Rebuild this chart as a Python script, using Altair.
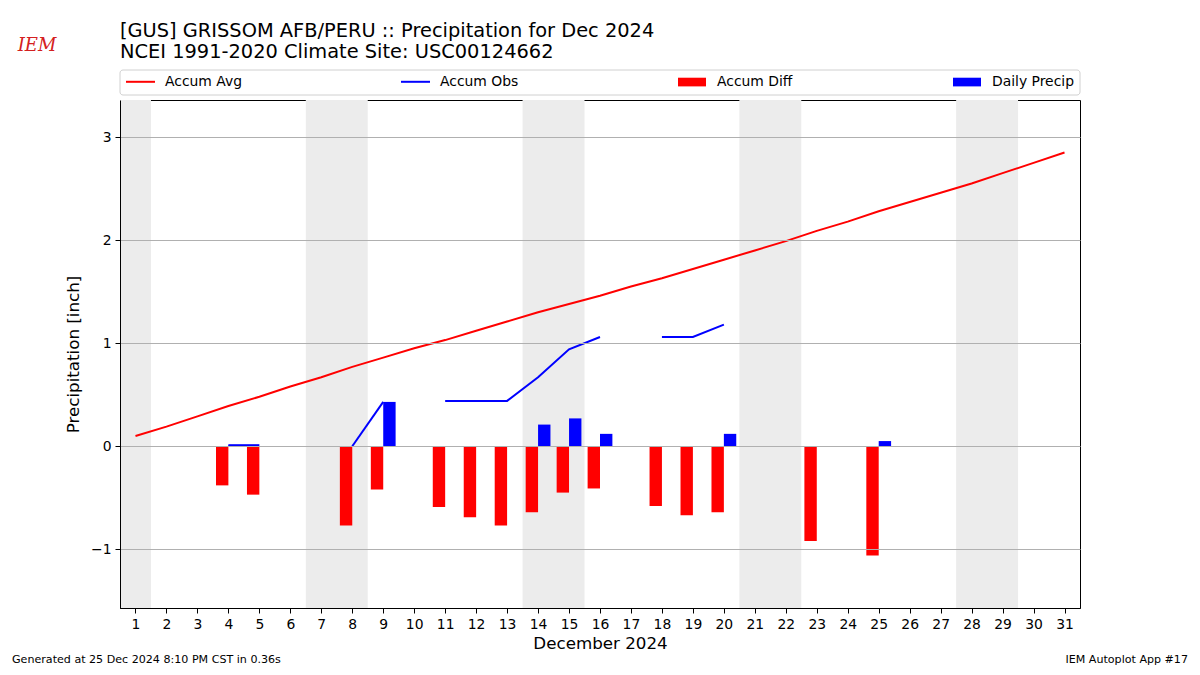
import altair as alt
import pandas as pd

# ---------------- data ----------------
days = list(range(1, 32))
accum_avg = [0.10, 0.19, 0.29, 0.39, 0.48, 0.58, 0.67, 0.77, 0.86, 0.95,
             1.03, 1.12, 1.21, 1.30, 1.38, 1.46, 1.55, 1.63, 1.72, 1.81,
             1.90, 1.99, 2.09, 2.18, 2.28, 2.37, 2.46, 2.55, 2.65, 2.75, 2.85]
accum_obs = [None, None, None, 0.01, 0.01, None, None, 0.00, 0.43, None,
             0.44, 0.44, 0.44, 0.67, 0.94, 1.06, None, 1.06, 1.06, 1.18,
             None, None, 1.17, None, 1.22, None, None, None, None, None, None]
accum_diff = [None, None, None, -0.38, -0.47, None, None, -0.77, -0.42, None,
              -0.59, -0.69, -0.77, -0.64, -0.45, -0.41, None, -0.58, -0.67, -0.64,
              None, None, -0.92, None, -1.06, None, None, None, None, None, None]
daily_precip = [None, None, None, 0.01, 0.00, None, None, 0.00, 0.43, None,
                0.00, 0.00, 0.00, 0.21, 0.27, 0.12, None, 0.00, 0.00, 0.12,
                None, None, 0.00, None, 0.05, None, None, None, None, None, None]
weekend_days = [1, 7, 8, 14, 15, 21, 22, 28, 29]
y_ticks = [-1, 0, 1, 2, 3]

title_lines = ["[GUS] GRISSOM AFB/PERU :: Precipitation for Dec 2024",
               "NCEI 1991-2020 Climate Site: USC00124662"]
x_title = "December 2024"
y_title = "Precipitation [inch]"
footer_left = "Generated at 25 Dec 2024 8:10 PM CST in 0.36s"
footer_right = "IEM Autoplot App #17"
logo_text = "IEM"

W, H = 960, 508
FONT = "DejaVu Sans"
TICK_FS = 13.9
LAB_FS = 16.7

# ---------------- tables ----------------
rows = []
for d, v in zip(days, accum_avg):
    rows.append({"day": d, "value": v, "series": "Accum Avg", "seg": "avg"})
seg = 0
for d, v in zip(days, accum_obs):
    if v is None:
        seg += 1
        continue
    rows.append({"day": d, "value": v, "series": "Accum Obs", "seg": f"obs{seg}"})
lines_df = pd.DataFrame(rows)

bar_rows = []
for d, v in zip(days, accum_diff):
    if v is not None:
        bar_rows.append({"day": d, "value": v, "series": "Accum Diff"})
for d, v in zip(days, daily_precip):
    if v is not None and v > 0:
        bar_rows.append({"day": d, "value": v, "series": "Daily Precip"})
bars_df = pd.DataFrame(bar_rows)

# merge consecutive weekend days into single shaded spans
spans = []
for d in weekend_days:
    if spans and spans[-1][1] == d - 1:
        spans[-1][1] = d
    else:
        spans.append([d, d])
wk_df = pd.DataFrame({"first": [s[0] for s in spans], "last": [s[1] for s in spans]})
one = pd.DataFrame({"a": [0]})

# ---------------- scales / axes ----------------
xscale = alt.Scale(domain=[0.5, 31.5], nice=False, zero=False)
yscale = alt.Scale(domain=[-1.57, 3.36], nice=False, zero=False)

xaxis = alt.Axis(values=days, title=x_title, format="d", grid=False,
                 labelFontSize=TICK_FS, titleFontSize=LAB_FS, tickSize=5,
                 tickColor="black", domainColor="black", labelColor="black",
                 titleColor="black", labelFont=FONT, titleFont=FONT,
                 titleFontWeight="normal", labelPadding=4, titlePadding=5,
                 labelFlush=False, labelOverlap=False)
yaxis = alt.Axis(values=y_ticks, title=y_title, grid=True, gridColor="#b0b0b0",
                 gridWidth=1, zindex=1,
                 labelExpr="datum.value < 0 ? '\u2212' + format(-datum.value, 'd') : format(datum.value, 'd')",
                 labelFontSize=TICK_FS, titleFontSize=LAB_FS, tickSize=5,
                 tickColor="black", domainColor="black", labelColor="black",
                 titleColor="black", labelFont=FONT, titleFont=FONT,
                 titleFontWeight="normal", labelPadding=4, titlePadding=8)

# ---------------- layers ----------------
bands = alt.Chart(wk_df).transform_calculate(
    x0="datum.first - 0.5", x1="datum.last + 0.5"
).mark_rect(color="#ececec").encode(
    x=alt.X("x0:Q", scale=xscale, axis=xaxis), x2="x1:Q"
)

bars = alt.Chart(bars_df).transform_calculate(
    x0="datum.series == 'Accum Diff' ? datum.day - 0.4 : datum.day",
    x1="datum.series == 'Accum Diff' ? datum.day : datum.day + 0.4",
).mark_bar().encode(
    x=alt.X("x0:Q", scale=xscale, axis=xaxis), x2="x1:Q",
    y=alt.Y("value:Q", scale=yscale, axis=yaxis), y2=alt.datum(0),
    fill=alt.Fill("series:N",
                  scale=alt.Scale(domain=["Accum Diff", "Daily Precip"], range=["#ff0000", "#0000ff"]),
                  legend=alt.Legend(title=None, orient="none", legendX=558, legendY=-32,
                                    direction="horizontal", columns=2, columnPadding=160,
                                    symbolType="M-1,-0.31h2v0.62h-2z", symbolSize=784,
                                    symbolStrokeWidth=0, labelFontSize=TICK_FS, labelFont=FONT,
                                    labelColor="black", labelOffset=11, padding=0)),
)

lines = alt.Chart(lines_df).mark_line(strokeWidth=2).encode(
    x=alt.X("day:Q", scale=xscale, axis=xaxis),
    y=alt.Y("value:Q", scale=yscale, axis=yaxis),
    stroke=alt.Stroke("series:N",
                      scale=alt.Scale(domain=["Accum Avg", "Accum Obs"], range=["#ff0000", "#0000ff"]),
                      legend=alt.Legend(title=None, orient="none", legendX=5, legendY=-34,
                                        direction="horizontal", columns=2, columnPadding=154,
                                        symbolType="stroke", symbolSize=841,
                                        symbolStrokeWidth=2, labelFontSize=TICK_FS, labelFont=FONT,
                                        labelColor="black", labelOffset=9, padding=0)),
    detail="seg:N",
    order="day:Q",
)

legend_frame = alt.Chart(one).mark_rect(fill="white", stroke="#d0d0d0", strokeWidth=1,
                                         cornerRadius=3).encode(
    x=alt.value(0), x2=alt.value(W), y=alt.value(-30), y2=alt.value(-5)
)

foot_l = alt.Chart(one).mark_text(align="left", baseline="middle", fontSize=11.1,
                                  font=FONT, color="black").encode(
    x=alt.value(-108), y=alt.value(560), text=alt.value(footer_left))
foot_r = alt.Chart(one).mark_text(align="right", baseline="middle", fontSize=11.1,
                                  font=FONT, color="black").encode(
    x=alt.value(1068), y=alt.value(560), text=alt.value(footer_right))
logo = alt.Chart(one).mark_text(align="center", baseline="middle", fontSize=18,
                                font="DejaVu Serif", fontStyle="italic",
                                color="#d42020").encode(
    x=alt.value(-83), y=alt.value(-54), text=alt.value(logo_text))

chart = alt.layer(bands, legend_frame, bars, lines, foot_l, foot_r, logo).properties(
    width=W, height=H,
    padding={"left": 112, "top": 92, "right": 112, "bottom": 59},
    autosize=alt.AutoSizeParams(type="none"),
    title=alt.Title(text=title_lines, anchor="start", frame="group", fontSize=19.4,
                    font=FONT, fontWeight="normal", color="black", lineHeight=21,
                    offset=6, dy=31),
).configure_view(stroke="black", strokeWidth=1)

chart.save("out.html", embed_options={"renderer": "svg", "actions": False})
